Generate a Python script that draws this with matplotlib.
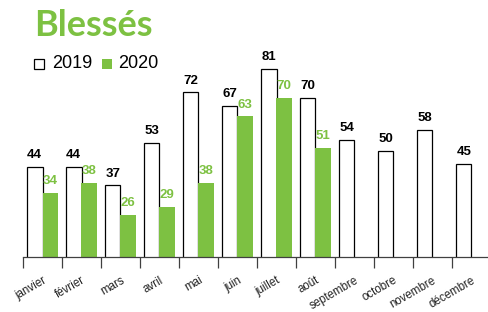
import numpy as np
import matplotlib.pyplot as plt
from matplotlib.patches import Rectangle

months = ["janvier", "février", "mars", "avril", "mai", "juin", "juillet",
          "août", "septembre", "octobre", "novembre", "décembre"]
v2019 = [44, 44, 37, 53, 72, 67, 81, 70, 54, 50, 58, 45]
v2020 = [34, 38, 26, 29, 38, 63, 70, 51]

GREEN = "#7dc142"
NARROW = ["Liberation Sans", "DejaVu Sans"]

fig = plt.figure(figsize=(4.88, 3.12), dpi=100)
ax = fig.add_axes([23 / 488, 1 - 257 / 312, 468 / 488, 199 / 312])

x = np.arange(len(months))
w = 0.4
ax.bar(x + 0.1, v2019, width=w, align="edge",
       facecolor="white", edgecolor="black", linewidth=0.9)
x20 = x[:len(v2020)]
ax.bar(x20 + 0.5, v2020, width=w, align="edge", color=GREEN, linewidth=0)

for xi, v in zip(x, v2019):
    ax.text(xi + 0.3, v + 2.2, str(v), ha="center", va="bottom",
            fontsize=9.5, fontweight="bold", color="black", family=NARROW)
for xi, v in zip(x20, v2020):
    ax.text(xi + 0.7, v + 2.2, str(v), ha="center", va="bottom",
            fontsize=9.5, fontweight="bold", color=GREEN, family=NARROW)

ax.set_xlim(0, 12)
ax.set_ylim(10, 85)
for s in ["top", "right", "left"]:
    ax.spines[s].set_visible(False)
ax.spines["bottom"].set_color("#404040")
ax.spines["bottom"].set_linewidth(0.9)
ax.set_yticks([])
ax.set_xticks(np.arange(0, 12))
ax.tick_params(axis="x", length=8, width=0.9, color="#404040", labelbottom=False)
for xi, m in zip(x, months):
    ax.text(xi + 0.5, 3.5, m, rotation=30, ha="right", va="top",
            rotation_mode="anchor", fontsize=8.3, color="#222222", family=NARROW)

fig.text(34 / 488, 1 - 25 / 312, "Blessés", fontsize=26, fontweight="bold",
         color=GREEN, family=["Lato", "DejaVu Sans"], va="center")

fig.patches.append(Rectangle((34 / 488, 1 - 69 / 312), 10 / 488, 10 / 312,
                             transform=fig.transFigure, facecolor="white",
                             edgecolor="black", linewidth=0.9))
fig.text(52 / 488, 1 - 64 / 312, "2019", fontsize=13, va="center",
         family=["Liberation Sans", "DejaVu Sans"])
fig.patches.append(Rectangle((102 / 488, 1 - 69 / 312), 10 / 488, 10 / 312,
                             transform=fig.transFigure, facecolor=GREEN,
                             edgecolor="none"))
fig.text(118 / 488, 1 - 64 / 312, "2020", fontsize=13, va="center",
         family=["Liberation Sans", "DejaVu Sans"])

fig.savefig("out.png", dpi=100)
